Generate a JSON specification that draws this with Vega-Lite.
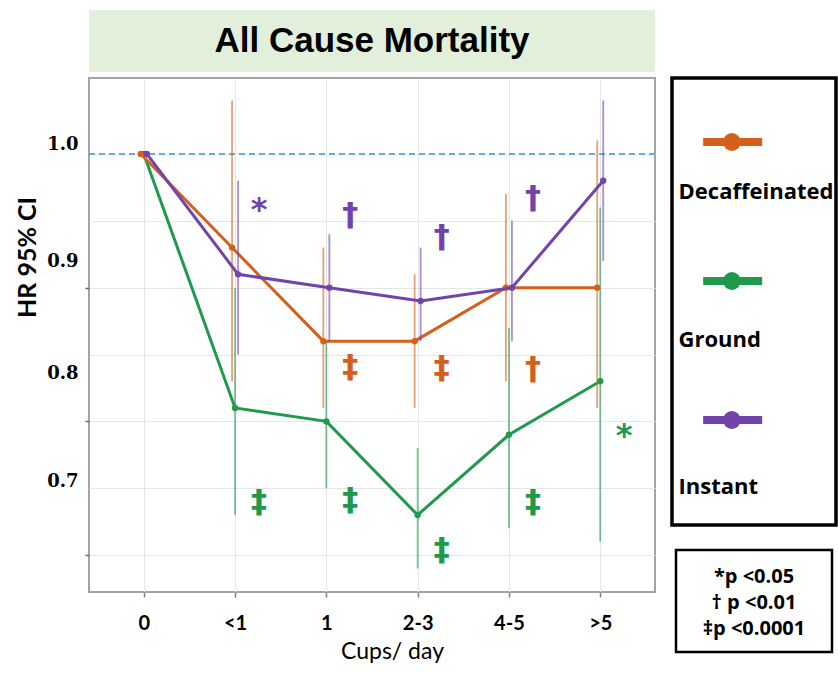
{
  "$schema": "https://vega.github.io/schema/vega-lite/v6.json",
  "padding": {"left": 14, "top": 10, "right": 0, "bottom": 0},
  "background": "white",
  "config": {"view": {"stroke": null}, "font": "Lato"},
  "datasets": {
    "hr": [
      {"series": "Decaffeinated", "cups": "0", "hr": 1.0, "lo": 1.0, "hi": 1.0},
      {"series": "Decaffeinated", "cups": "<1", "hr": 0.93, "lo": 0.83, "hi": 1.04},
      {"series": "Decaffeinated", "cups": "1", "hr": 0.86, "lo": 0.81, "hi": 0.93},
      {"series": "Decaffeinated", "cups": "2-3", "hr": 0.86, "lo": 0.81, "hi": 0.91},
      {"series": "Decaffeinated", "cups": "4-5", "hr": 0.90, "lo": 0.83, "hi": 0.97},
      {"series": "Decaffeinated", "cups": ">5", "hr": 0.90, "lo": 0.81, "hi": 1.01},
      {"series": "Ground", "cups": "0", "hr": 1.0, "lo": 1.0, "hi": 1.0},
      {"series": "Ground", "cups": "<1", "hr": 0.81, "lo": 0.73, "hi": 0.90},
      {"series": "Ground", "cups": "1", "hr": 0.80, "lo": 0.75, "hi": 0.86},
      {"series": "Ground", "cups": "2-3", "hr": 0.73, "lo": 0.69, "hi": 0.78},
      {"series": "Ground", "cups": "4-5", "hr": 0.79, "lo": 0.72, "hi": 0.87},
      {"series": "Ground", "cups": ">5", "hr": 0.83, "lo": 0.71, "hi": 0.96},
      {"series": "Instant", "cups": "0", "hr": 1.0, "lo": 1.0, "hi": 1.0},
      {"series": "Instant", "cups": "<1", "hr": 0.91, "lo": 0.85, "hi": 0.98},
      {"series": "Instant", "cups": "1", "hr": 0.90, "lo": 0.86, "hi": 0.94},
      {"series": "Instant", "cups": "2-3", "hr": 0.89, "lo": 0.86, "hi": 0.93},
      {"series": "Instant", "cups": "4-5", "hr": 0.90, "lo": 0.86, "hi": 0.95},
      {"series": "Instant", "cups": ">5", "hr": 0.98, "lo": 0.92, "hi": 1.04}
    ],
    "ann": [
      {"series": "Instant", "cups": "<1", "y": 0.958, "sym": "*"},
      {"series": "Instant", "cups": "1", "y": 0.954, "sym": "†"},
      {"series": "Instant", "cups": "2-3", "y": 0.938, "sym": "†"},
      {"series": "Instant", "cups": "4-5", "y": 0.967, "sym": "†"},
      {"series": "Decaffeinated", "cups": "1", "y": 0.841, "sym": "‡"},
      {"series": "Decaffeinated", "cups": "2-3", "y": 0.840, "sym": "‡"},
      {"series": "Decaffeinated", "cups": "4-5", "y": 0.839, "sym": "†"},
      {"series": "Ground", "cups": ">5", "y": 0.789, "sym": "*"},
      {"series": "Ground", "cups": "<1", "y": 0.740, "sym": "‡"},
      {"series": "Ground", "cups": "1", "y": 0.741, "sym": "‡"},
      {"series": "Ground", "cups": "2-3", "y": 0.704, "sym": "‡"},
      {"series": "Ground", "cups": "4-5", "y": 0.740, "sym": "‡"}
    ]
  },
  "bounds": "flush",
  "spacing": 6,
  "vconcat": [
    {
      "width": 566,
      "height": 62,
      "view": {"fill": "#e2efda", "stroke": null},
      "data": {"values": [{"title": "All Cause Mortality"}]},
      "mark": {"type": "text", "font": "Liberation Sans", "fontSize": 35, "fontWeight": "bold", "color": "#000000"},
      "encoding": {"text": {"field": "title", "type": "nominal"}}
    },
    {
      "bounds": "flush",
      "spacing": 17,
      "hconcat": [
        {
          "width": 566,
          "height": 514,
          "view": {"stroke": "#a3a3a3", "strokeWidth": 2},
          "layer": [
            {
              "data": {"values": [{"ref": 1}]},
              "mark": {"type": "rule", "color": "#3d97c4", "strokeDash": [6, 4], "strokeWidth": 1.6},
              "encoding": {
                "y": {
                  "field": "ref",
                  "type": "quantitative",
                  "scale": {"domain": [0.6724, 1.0568], "nice": false, "zero": false},
                  "axis": {
                    "title": "HR 95% CI",
                    "titleFont": "Lato",
                    "titleFontSize": 25,
                    "titleFontWeight": "bold",
                    "titleColor": "#000000",
                    "titlePadding": 6,
                    "titleY": 179,
                    "values": [1.0, 0.95, 0.9, 0.85, 0.8, 0.75, 0.7, 1.007, 0.9195, 0.836, 0.755],
                    "labelExpr": "datum.value == 1.007 ? '1.0' : datum.value == 0.9195 ? '0.9' : datum.value == 0.836 ? '0.8' : datum.value == 0.755 ? '0.7' : ''",
                    "labelFont": "DejaVu Serif",
                    "labelFontSize": 18,
                    "labelFontWeight": "bold",
                    "labelColor": "#000000",
                    "labelPadding": 7,
                    "labelOverlap": false,
                    "domain": false,
                    "tickSize": 4,
                    "tickColor": "#666666",
                    "tickWidth": 1.5,
                    "tickOpacity": {"condition": {"test": "datum.value == 0.9 || datum.value == 0.8 || datum.value == 0.7", "value": 1}, "value": 0},
                    "grid": true,
                    "gridColor": "#e6e6e6",
                    "gridOpacity": {"condition": {"test": "datum.value == 1.007 || datum.value == 0.9195 || datum.value == 0.836 || datum.value == 0.755", "value": 0}, "value": 1}
                  }
                }
              }
            },
            {
              "data": {"name": "hr"},
              "transform": [{"filter": "datum.series === 'Ground'"}],
              "layer": [
                {
                  "mark": {"type": "rule", "strokeWidth": 1.8, "opacity": 0.6},
                  "encoding": {
                    "x": {
                      "field": "cups",
                      "type": "ordinal",
                      "sort": ["0", "<1", "1", "2-3", "4-5", ">5"],
                      "scale": {"type": "point", "padding": 0.6},
                      "axis": {
                        "title": "Cups/ day",
                        "titleFont": "Lato",
                        "titleFontSize": 23,
                        "titleFontWeight": "normal",
                        "titleColor": "#000000",
                        "titlePadding": 7,
                        "titleX": 303,
                        "labelFont": "Lato",
                        "labelFontSize": 20,
                        "labelFontWeight": "bold",
                        "labelColor": "#000000",
                        "labelAngle": 0,
                        "labelPadding": 16,
                        "domain": false,
                        "tickSize": 5,
                        "tickColor": "#808080",
                        "tickWidth": 1.5,
                        "grid": true,
                        "gridColor": "#e6e6e6"
                      }
                    },
                    "y": {"field": "lo", "type": "quantitative"},
                    "y2": {"field": "hi"},
                    "color": {"field": "series", "type": "nominal", "scale": {"domain": ["Decaffeinated", "Ground", "Instant"], "range": ["#d4601c", "#1f9a4c", "#7143ab"]}, "legend": null}
                  }
                },
                {
                  "mark": {"type": "line", "strokeWidth": 3},
                  "encoding": {
                    "x": {"field": "cups", "type": "ordinal", "sort": ["0", "<1", "1", "2-3", "4-5", ">5"]},
                    "y": {"field": "hr", "type": "quantitative"},
                    "color": {"field": "series", "type": "nominal", "scale": {"domain": ["Decaffeinated", "Ground", "Instant"], "range": ["#d4601c", "#1f9a4c", "#7143ab"]}, "legend": null}
                  }
                },
                {
                  "mark": {"type": "point", "filled": true, "size": 40, "opacity": 1},
                  "encoding": {
                    "x": {"field": "cups", "type": "ordinal", "sort": ["0", "<1", "1", "2-3", "4-5", ">5"]},
                    "y": {"field": "hr", "type": "quantitative"},
                    "color": {"field": "series", "type": "nominal", "scale": {"domain": ["Decaffeinated", "Ground", "Instant"], "range": ["#d4601c", "#1f9a4c", "#7143ab"]}, "legend": null}
                  }
                }
              ]
            },
            {
              "data": {"name": "hr"},
              "transform": [{"filter": "datum.series === 'Decaffeinated'"}],
              "layer": [
                {
                  "mark": {"type": "rule", "strokeWidth": 1.8, "opacity": 0.6, "xOffset": -3},
                  "encoding": {
                    "x": {"field": "cups", "type": "ordinal", "sort": ["0", "<1", "1", "2-3", "4-5", ">5"]},
                    "y": {"field": "lo", "type": "quantitative"},
                    "y2": {"field": "hi"},
                    "color": {"field": "series", "type": "nominal", "scale": {"domain": ["Decaffeinated", "Ground", "Instant"], "range": ["#d4601c", "#1f9a4c", "#7143ab"]}, "legend": null}
                  }
                },
                {
                  "mark": {"type": "line", "strokeWidth": 3, "xOffset": -3},
                  "encoding": {
                    "x": {"field": "cups", "type": "ordinal", "sort": ["0", "<1", "1", "2-3", "4-5", ">5"]},
                    "y": {"field": "hr", "type": "quantitative"},
                    "color": {"field": "series", "type": "nominal", "scale": {"domain": ["Decaffeinated", "Ground", "Instant"], "range": ["#d4601c", "#1f9a4c", "#7143ab"]}, "legend": null}
                  }
                },
                {
                  "mark": {"type": "point", "filled": true, "size": 40, "opacity": 1, "xOffset": -3},
                  "encoding": {
                    "x": {"field": "cups", "type": "ordinal", "sort": ["0", "<1", "1", "2-3", "4-5", ">5"]},
                    "y": {"field": "hr", "type": "quantitative"},
                    "color": {"field": "series", "type": "nominal", "scale": {"domain": ["Decaffeinated", "Ground", "Instant"], "range": ["#d4601c", "#1f9a4c", "#7143ab"]}, "legend": null}
                  }
                }
              ]
            },
            {
              "data": {"name": "hr"},
              "transform": [{"filter": "datum.series === 'Instant'"}],
              "layer": [
                {
                  "mark": {"type": "rule", "strokeWidth": 1.8, "opacity": 0.6, "xOffset": 3},
                  "encoding": {
                    "x": {"field": "cups", "type": "ordinal", "sort": ["0", "<1", "1", "2-3", "4-5", ">5"]},
                    "y": {"field": "lo", "type": "quantitative"},
                    "y2": {"field": "hi"},
                    "color": {"field": "series", "type": "nominal", "scale": {"domain": ["Decaffeinated", "Ground", "Instant"], "range": ["#d4601c", "#1f9a4c", "#7143ab"]}, "legend": null}
                  }
                },
                {
                  "mark": {"type": "line", "strokeWidth": 3, "xOffset": 3},
                  "encoding": {
                    "x": {"field": "cups", "type": "ordinal", "sort": ["0", "<1", "1", "2-3", "4-5", ">5"]},
                    "y": {"field": "hr", "type": "quantitative"},
                    "color": {"field": "series", "type": "nominal", "scale": {"domain": ["Decaffeinated", "Ground", "Instant"], "range": ["#d4601c", "#1f9a4c", "#7143ab"]}, "legend": null}
                  }
                },
                {
                  "mark": {"type": "point", "filled": true, "size": 40, "opacity": 1, "xOffset": 3},
                  "encoding": {
                    "x": {"field": "cups", "type": "ordinal", "sort": ["0", "<1", "1", "2-3", "4-5", ">5"]},
                    "y": {"field": "hr", "type": "quantitative"},
                    "color": {"field": "series", "type": "nominal", "scale": {"domain": ["Decaffeinated", "Ground", "Instant"], "range": ["#d4601c", "#1f9a4c", "#7143ab"]}, "legend": null}
                  }
                }
              ]
            },
            {
              "data": {"name": "ann"},
              "mark": {"type": "text", "font": "DejaVu Sans", "fontSize": 32, "fontWeight": "bold", "dx": 24, "baseline": "middle"},
              "encoding": {
                "x": {"field": "cups", "type": "ordinal", "sort": ["0", "<1", "1", "2-3", "4-5", ">5"]},
                "y": {"field": "y", "type": "quantitative"},
                "text": {"field": "sym", "type": "nominal"},
                "color": {"field": "series", "type": "nominal", "scale": {"domain": ["Decaffeinated", "Ground", "Instant"], "range": ["#d4601c", "#1f9a4c", "#7143ab"]}, "legend": null}
              }
            }
          ]
        },
        {
          "bounds": "flush",
          "spacing": 25,
          "center": true,
          "vconcat": [
            {
              "width": 164,
              "height": 447,
              "view": {"stroke": "#000000", "strokeWidth": 3.5, "fill": "white"},
              "data": {"values": [{"series": "Decaffeinated"}, {"series": "Ground"}, {"series": "Instant"}]},
              "resolve": {"scale": {"y": "independent"}},
              "layer": [
                {
                  "mark": {"type": "rule", "strokeWidth": 8, "strokeCap": "butt"},
                  "encoding": {
                    "x": {"datum": 0.19, "type": "quantitative", "scale": {"domain": [0, 1], "nice": false, "zero": false}, "axis": null},
                    "x2": {"datum": 0.55},
                    "y": {"field": "series", "type": "nominal", "scale": {"type": "point", "range": [64, 342], "padding": 0}, "axis": null},
                    "color": {"field": "series", "type": "nominal", "scale": {"domain": ["Decaffeinated", "Ground", "Instant"], "range": ["#d4601c", "#1f9a4c", "#7143ab"]}, "legend": null}
                  }
                },
                {
                  "mark": {"type": "point", "filled": true, "size": 320, "opacity": 1},
                  "encoding": {
                    "x": {"datum": 0.365, "type": "quantitative"},
                    "y": {"field": "series", "type": "nominal", "scale": {"type": "point", "range": [64, 342], "padding": 0}, "axis": null},
                    "color": {"field": "series", "type": "nominal", "scale": {"domain": ["Decaffeinated", "Ground", "Instant"], "range": ["#d4601c", "#1f9a4c", "#7143ab"]}, "legend": null}
                  }
                },
                {
                  "mark": {"type": "text", "align": "left", "font": "Open Sans", "fontSize": 22, "fontWeight": "bold", "color": "#000000"},
                  "encoding": {
                    "x": {"datum": 0.04, "type": "quantitative"},
                    "y": {"field": "series", "type": "nominal", "scale": {"type": "point", "range": [114, 409], "padding": 0}, "axis": null},
                    "text": {"field": "series", "type": "nominal"}
                  }
                }
              ]
            },
            {
              "width": 156,
              "height": 102,
              "view": {"stroke": "#000000", "strokeWidth": 2.5, "fill": "white"},
              "data": {"values": [{"line": "*p <0.05"}, {"line": "† p <0.01"}, {"line": "‡p <0.0001"}]},
              "mark": {"type": "text", "font": "Open Sans", "fontSize": 20, "fontWeight": "bold", "color": "#000000"},
              "encoding": {
                "y": {"field": "line", "type": "nominal", "sort": null, "scale": {"type": "point", "range": [27, 79], "padding": 0}, "axis": null},
                "text": {"field": "line", "type": "nominal"}
              }
            }
          ]
        }
      ]
    }
  ]
}
